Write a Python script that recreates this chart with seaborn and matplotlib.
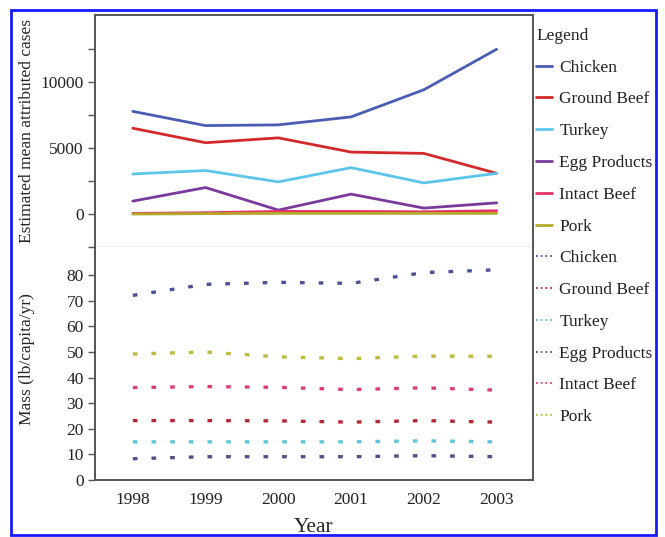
import numpy as np
import pandas as pd
import matplotlib
matplotlib.use("Agg")
import matplotlib.pyplot as plt
import seaborn as sns
from matplotlib.lines import Line2D
from matplotlib.patches import Rectangle

# Daten
years = [1998, 1999, 2000, 2001, 2002, 2003]
foods = ["Chicken", "Ground Beef", "Turkey", "Egg Products", "Intact Beef", "Pork"]

# geschaetzte mittlere zugeordnete Faelle
cases_chicken = [7790, 6710, 6765, 7370, 9430, 12500]
cases_ground_beef = [6510, 5410, 5780, 4700, 4600, 3090]
cases_turkey = [3040, 3300, 2440, 3520, 2360, 3090]
cases_egg = [980, 2010, 300, 1510, 450, 850]
cases_intact_beef = [50, 100, 200, 200, 170, 250]
cases_pork = [0, 30, 50, 50, 50, 50]

# Verbrauch (lb/capita/yr)
mass_chicken = [72.1, 76.4, 77.2, 76.8, 81.0, 82.1]
mass_ground_beef = [23.2, 23.2, 23.1, 22.6, 23.2, 22.6]
mass_turkey = [14.9, 14.9, 14.9, 14.9, 15.3, 14.9]
mass_egg = [8.3, 9.1, 9.1, 9.1, 9.5, 9.1]
mass_intact_beef = [36.1, 36.5, 36.2, 35.3, 36.0, 35.1]
mass_pork = [49.2, 50.0, 48.1, 47.4, 48.4, 48.3]

cases = [cases_chicken, cases_ground_beef, cases_turkey, cases_egg, cases_intact_beef, cases_pork]
mass = [mass_chicken, mass_ground_beef, mass_turkey, mass_egg, mass_intact_beef, mass_pork]

colors_top = {"Chicken": "#4a5db3", "Ground Beef": "#d3292c", "Turkey": "#5cc6ea",
              "Egg Products": "#7a3a9c", "Intact Beef": "#e6336a", "Pork": "#b3a82a"}
colors_bot = {"Chicken": "#4b5194", "Ground Beef": "#b52838", "Turkey": "#62c4dc",
              "Egg Products": "#5b4a86", "Intact Beef": "#dc3f72", "Pork": "#bcbc3e"}

df_top = pd.DataFrame([(y, f, v) for f, vals in zip(foods, cases) for y, v in zip(years, vals)],
                      columns=["Year", "Food", "Value"])
df_bot = pd.DataFrame([(y, f, v) for f, vals in zip(foods, mass) for y, v in zip(years, vals)],
                      columns=["Year", "Food", "Value"])

#%% Plot
sns.set_theme(style="white")
plt.rcParams["font.family"] = ["Liberation Serif", "DejaVu Serif"]
plt.rcParams["text.color"] = "#222222"

fig = plt.figure(figsize=(6.65, 5.37), dpi=100)
L, R = 95/665, 533/665
T, M, B = 1 - 15/537, 1 - 247/537, 1 - 480/537
ax1 = fig.add_axes([L, M, R - L, T - M])
ax2 = fig.add_axes([L, B, R - L, M - B], sharex=ax1)

sns.lineplot(data=df_top, x="Year", y="Value", hue="Food", hue_order=foods,
             palette=colors_top, ax=ax1, legend=False, linewidth=2)
sns.lineplot(data=df_bot, x="Year", y="Value", hue="Food", hue_order=foods,
             palette=colors_bot, ax=ax2, legend=False, linewidth=2.4)
for ln in ax2.lines:
    ln.set_dashes((1.4, 4.2))

frame_col = "#555555"
for ax in (ax1, ax2):
    for s in ax.spines.values():
        s.set_color(frame_col)
        s.set_linewidth(1.4)
    ax.set_xlabel("")
    ax.tick_params(axis="y", which="both", left=True, length=5, width=1, color=frame_col,
                   labelsize=12.5, pad=3, labelcolor="#222222")
    ax.tick_params(axis="x", length=0, labelsize=12.5, pad=9, labelcolor="#222222")

ax1.spines["bottom"].set_color("#aaaaaa")
ax1.spines["bottom"].set_linewidth(1)
ax2.spines["top"].set_visible(False)

ax1.set_ylim(-2500, 15100)
ax1.set_yticks([0, 5000, 10000])
ax1.set_yticks([-2500, 2500, 7500, 12500], minor=True)
ax1.tick_params(axis="x", labelbottom=False)
ax1.set_ylabel("Estimated mean attributed cases", fontsize=12.5)
ax1.yaxis.set_label_coords(-0.137, 0.5)

ax2.set_ylim(0, 91)
ax2.set_yticks(range(0, 81, 10))
ax2.set_xlim(1997.48, 2003.5)
ax2.set_xticks(years)
ax2.set_ylabel("Mass (lb/capita/yr)", fontsize=12.5)
ax2.yaxis.set_label_coords(-0.137, 0.52)
ax2.set_xlabel("Year", fontsize=15.5, labelpad=7)

# Legende
handles = [Line2D([], [], color=colors_top[f], lw=2) for f in foods]
handles += [Line2D([], [], color=colors_bot[f], lw=1.3, linestyle=(0, (1, 1.6))) for f in foods]
leg = fig.legend(handles, foods + foods, title="Legend", loc="upper left",
                 bbox_to_anchor=(0.806, 0.948), frameon=False, fontsize=12.5,
                 title_fontsize=12.5, handlelength=0.9, handletextpad=0.45,
                 labelspacing=0.9, borderpad=0, borderaxespad=0, alignment="left")

# blauer Rahmen
fig.patches.append(Rectangle((11/665, 2/537), 645/665, 525/537, transform=fig.transFigure,
                             fill=False, edgecolor="#1a1aff", linewidth=2))

fig.savefig("out.png", dpi=100)
